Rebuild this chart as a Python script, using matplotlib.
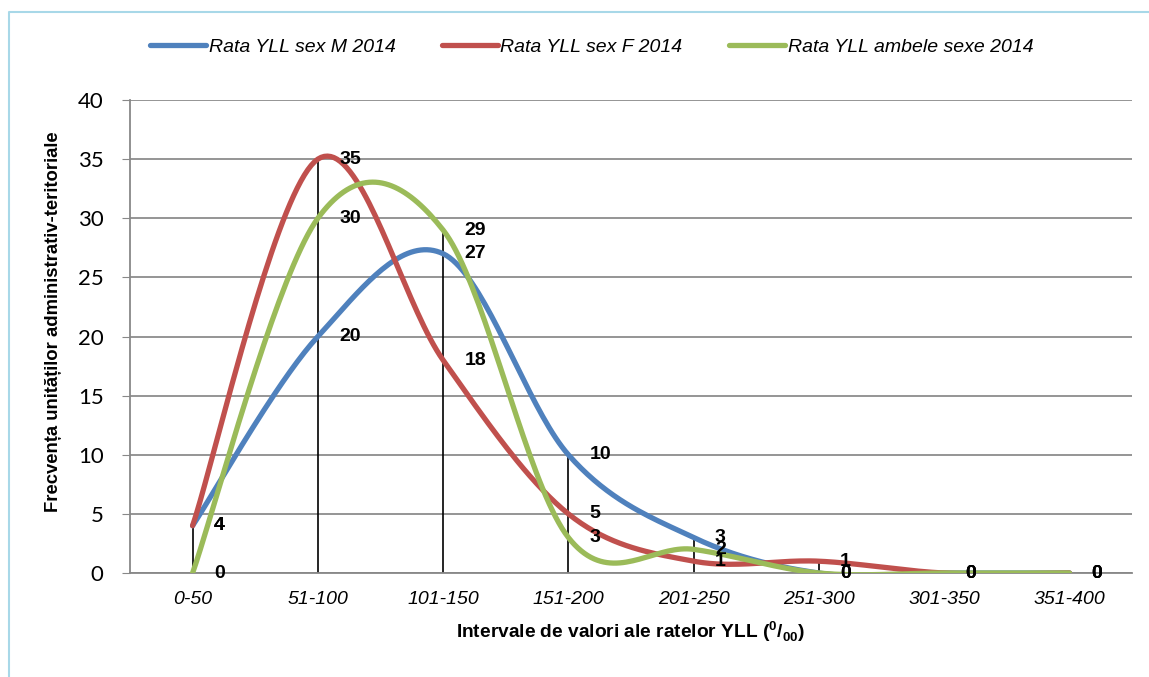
import numpy as np
import matplotlib.pyplot as plt
from matplotlib.lines import Line2D

# date
intervale = ["0-50", "51-100", "101-150", "151-200", "201-250", "251-300", "301-350", "351-400"]
rata_m = [4, 20, 27, 10, 3, 0, 0, 0]
rata_f = [4, 35, 18, 5, 1, 1, 0, 0]
rata_ambele = [0, 30, 29, 3, 2, 0, 0, 0]

serii = [
    ("Rata YLL sex M 2014", rata_m, "#4f81bd"),
    ("Rata YLL sex F 2014", rata_f, "#c0504d"),
    ("Rata YLL ambele sexe 2014", rata_ambele, "#9bbb59"),
]

plt.rcParams['font.family'] = ['Liberation Sans', 'DejaVu Sans']
plt.rcParams['mathtext.fontset'] = 'custom'
plt.rcParams['mathtext.rm'] = 'Liberation Sans:bold'


# curba netezita ca in Excel (Catmull-Rom / Bezier)
def netezire(x, y, n=40):
    x = np.asarray(x, float)
    y = np.asarray(y, float)
    px = np.concatenate([[x[0]], x, [x[-1]]])
    py = np.concatenate([[y[0]], y, [y[-1]]])
    xs, ys = [], []
    t = np.linspace(0, 1, n)
    for i in range(1, len(px) - 2):
        p0 = np.array([px[i - 1], py[i - 1]])
        p1 = np.array([px[i], py[i]])
        p2 = np.array([px[i + 1], py[i + 1]])
        p3 = np.array([px[i + 2], py[i + 2]])
        c1 = p1 + (p2 - p0) / 6
        c2 = p2 - (p3 - p1) / 6
        b = ((1 - t) ** 3)[:, None] * p1 + (3 * (1 - t) ** 2 * t)[:, None] * c1 \
            + (3 * (1 - t) * t ** 2)[:, None] * c2 + (t ** 3)[:, None] * p2
        xs.extend(b[:, 0])
        ys.extend(b[:, 1])
    return np.array(xs), np.array(ys)


fig = plt.figure(figsize=(11.49, 6.77), dpi=100)
ax = fig.add_axes([0.1131, 0.1536, 0.8722, 0.6987])
x = np.arange(len(intervale))

# linii verticale (drop lines)
maxime = np.max([rata_m, rata_f, rata_ambele], axis=0)
for xi, m in zip(x, maxime):
    if m > 0:
        ax.plot([xi, xi], [0, m], color='black', lw=1.2, zorder=2)

for nume, val, cul in serii:
    xs, ys = netezire(x, val)
    ax.plot(xs, ys, color=cul, lw=3.8, label=nume, solid_capstyle='round', zorder=3)

# etichete valori
for nume, val, cul in serii:
    for xi, v in zip(x, val):
        ax.text(xi + 0.17, v, str(v), fontsize=14, fontweight='bold',
                ha='left', va='center', zorder=4)

ax.set_xlim(-0.5, 7.5)
ax.set_ylim(0, 40)
ax.set_yticks(range(0, 41, 5))
ax.set_xticks(x)
ax.set_xticklabels(intervale, style='italic', fontsize=14)
ax.tick_params(axis='x', length=0, pad=13)
ax.tick_params(axis='y', labelsize=16, length=6, color='#888888', pad=13)
for lab in ax.get_yticklabels():
    lab.set_family(['Lato', 'Liberation Sans'])
ax.grid(axis='y', color='#8c8c8c', lw=1.3)
ax.set_axisbelow(True)
for s in ['top', 'right']:
    ax.spines[s].set_visible(False)
ax.spines['left'].set_color('#888888')
ax.spines['bottom'].set_color('#888888')
ax.spines['left'].set_linewidth(1.3)
ax.spines['bottom'].set_linewidth(1.3)

ax.set_ylabel("Frecvența unităților administrativ-teritoriale", fontsize=13.3,
              fontweight='bold')
ax.yaxis.set_label_coords(-0.068, 0.531)
ax.set_xlabel(r"Intervale de valori ale ratelor YLL ($^{0}/_{00}$)", fontsize=13.8,
              fontweight='bold', labelpad=8)

fig.legend(loc='center', bbox_to_anchor=(0.515, 0.93), ncol=3, frameon=False,
           prop={'style': 'italic', 'size': 14}, handlelength=2.85,
           columnspacing=2.4, handletextpad=0.15)

# chenar (doar sus si stanga, restul e taiat)
fig.add_artist(Line2D([9 / 1149, 9 / 1149, 1.0], [0.0, 1 - 12 / 677, 1 - 12 / 677],
                      transform=fig.transFigure, color='#a8d8e8', lw=1.5))

fig.savefig('out.png', dpi=100)
